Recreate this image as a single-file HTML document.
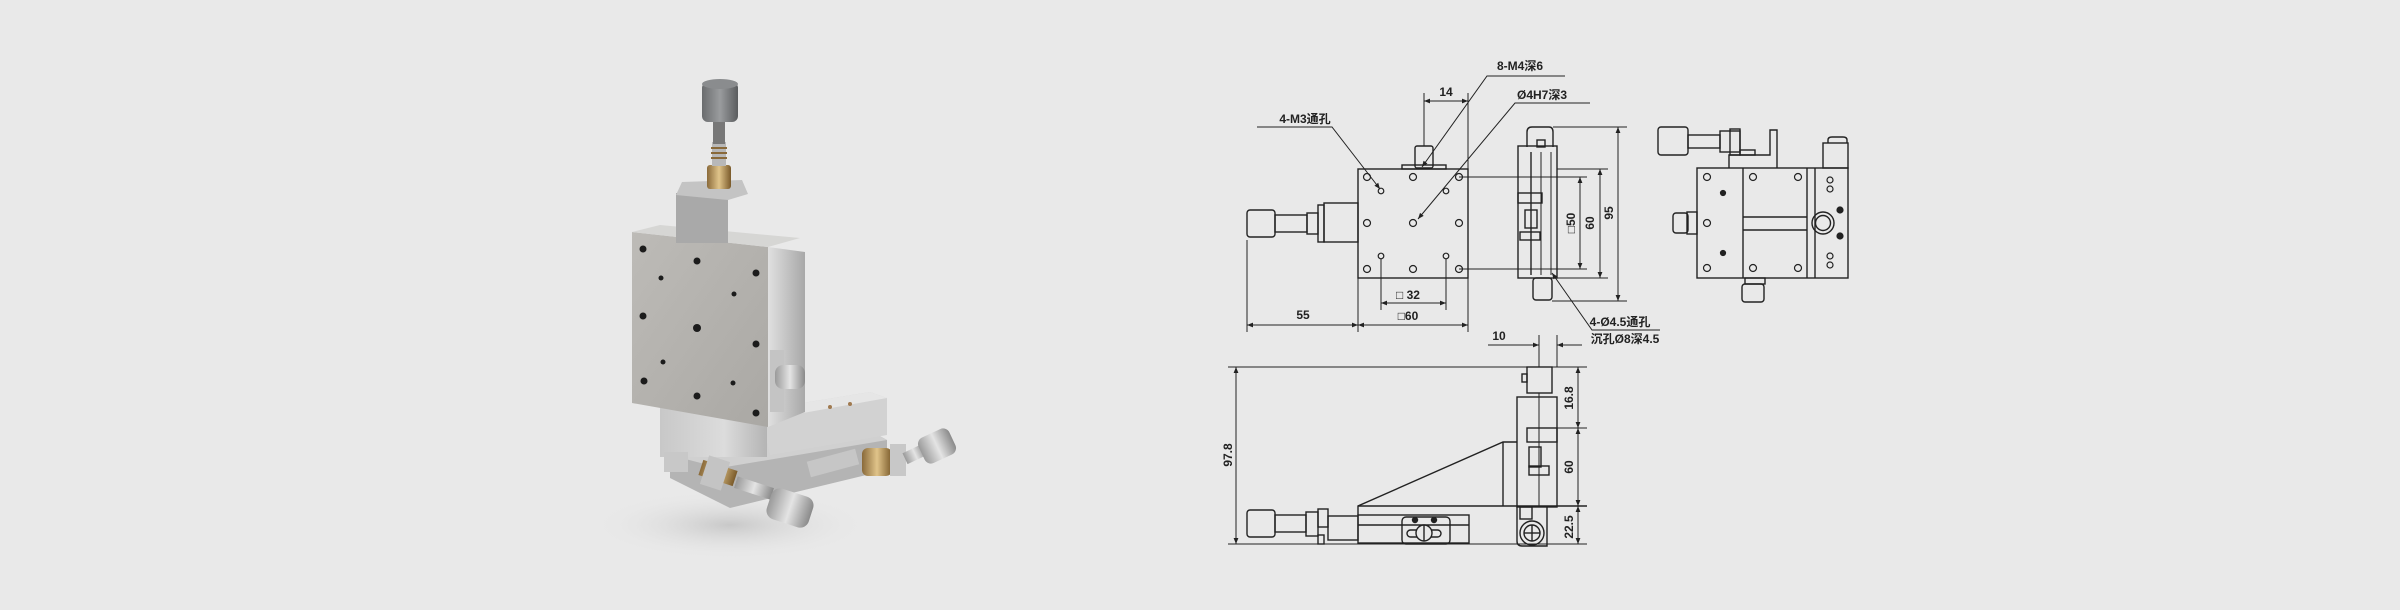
<!DOCTYPE html>
<html><head><meta charset="utf-8"><style>
html,body{margin:0;padding:0;background:#e9e9e9;}
svg{display:block}
text{font-family:"Liberation Sans Narrow","Liberation Sans","Noto Sans CJK SC",sans-serif;font-weight:bold;font-size:12px;fill:#222}
</style></head><body>
<svg width="2400" height="610" viewBox="0 0 2400 610" xmlns="http://www.w3.org/2000/svg">
<defs>
<marker id="a" viewBox="0 0 10 10" refX="10" refY="5" markerWidth="9" markerHeight="6" orient="auto-start-reverse" markerUnits="userSpaceOnUse"><path d="M0,1 L10,5 L0,9z" fill="#222"/></marker>
<linearGradient id="pl" x1="0" y1="0" x2="1" y2="1"><stop offset="0" stop-color="#bdbbb7"/><stop offset="1" stop-color="#aaa8a4"/></linearGradient>
<linearGradient id="sd" x1="0" y1="0" x2="1" y2="0"><stop offset="0" stop-color="#e0e0e0"/><stop offset="1" stop-color="#a8a8a8"/></linearGradient>
<linearGradient id="col" x1="0" y1="0" x2="1" y2="0"><stop offset="0" stop-color="#c8c8c8"/><stop offset=".6" stop-color="#dcdcdc"/><stop offset="1" stop-color="#b4b4b4"/></linearGradient>
<linearGradient id="kn" x1="0" y1="0" x2="1" y2="0"><stop offset="0" stop-color="#6a6c6e"/><stop offset=".5" stop-color="#9a9c9e"/><stop offset="1" stop-color="#5a5c5e"/></linearGradient>
<linearGradient id="kn2" x1="0" y1="0" x2="1" y2="0"><stop offset="0" stop-color="#9a9a9a"/><stop offset=".5" stop-color="#e4e4e4"/><stop offset="1" stop-color="#8a8a8a"/></linearGradient>
<linearGradient id="br" x1="0" y1="0" x2="1" y2="0"><stop offset="0" stop-color="#8a6a3a"/><stop offset=".5" stop-color="#e0c48a"/><stop offset="1" stop-color="#7a5a2a"/></linearGradient>
<radialGradient id="sh" cx=".5" cy=".5" r=".5"><stop offset="0" stop-color="#c8c8c8"/><stop offset="1" stop-color="#e9e9e9" stop-opacity="0"/></radialGradient>
</defs>

<!-- ============ 3D render ============ -->
<ellipse cx="730" cy="525" rx="140" ry="35" fill="url(#sh)"/>
<!-- base lower -->
<polygon points="670,455 860,425 887,440 887,470 730,508 670,478" fill="#b4b4b4"/>
<polygon points="670,455 860,425 887,440 720,468" fill="#d0d0d0"/>
<!-- L bracket top -->
<polygon points="760,410 870,392 887,398 887,435 770,455" fill="#d2d2d2"/>
<polygon points="760,410 870,392 887,398 775,418" fill="#e6e6e6"/>
<circle cx="830" cy="407" r="2" fill="#a07a50"/><circle cx="850" cy="404" r="2" fill="#a07a50"/>
<!-- column below plate -->
<rect x="660" y="405" width="107" height="52" fill="url(#col)"/>
<!-- front plate side -->
<polygon points="768,247 805,252 805,412 768,427" fill="url(#sd)"/>
<!-- main plate -->
<polygon points="632,232 768,247 768,427 632,403" fill="url(#pl)"/>
<polygon points="632,232 660,225 800,238 768,247" fill="#d6d6d4"/>
<g fill="#1c1c1c">
<circle cx="643" cy="249" r="3.5"/><circle cx="697" cy="261" r="3.5"/><circle cx="756" cy="273" r="3.5"/>
<circle cx="661" cy="278" r="2.5"/><circle cx="734" cy="294" r="2.5"/>
<circle cx="643" cy="316" r="3.5"/><circle cx="697" cy="328" r="4"/><circle cx="756" cy="344" r="3.5"/>
<circle cx="663" cy="362" r="2.5"/><circle cx="733" cy="383" r="2.5"/>
<circle cx="644" cy="381" r="3.5"/><circle cx="697" cy="396" r="3.5"/><circle cx="756" cy="413" r="3.5"/>
</g>
<!-- top block -->
<rect x="676" y="193" width="52" height="50" fill="#a9a9a9"/>
<polygon points="682,182 742,180 748,194 728,200 676,195" fill="#c4c4c4"/>
<rect x="707" y="165" width="24" height="24" rx="3" fill="url(#br)"/>
<rect x="712" y="142" width="14" height="24" fill="#b8b8b8"/>
<g stroke="#8a6a3a" stroke-width="2"><line x1="711" y1="148" x2="727" y2="148"/><line x1="711" y1="153" x2="727" y2="153"/><line x1="711" y1="158" x2="727" y2="158"/></g>
<rect x="713" y="118" width="12" height="26" fill="#777"/>
<rect x="702" y="82" width="36" height="40" rx="6" fill="url(#kn)"/>
<ellipse cx="720" cy="84" rx="18" ry="5" fill="#8a8c8e"/>
<!-- side knob on plate -->
<rect x="770" y="350" width="14" height="62" fill="#c4c4c4"/>
<rect x="775" y="365" width="30" height="24" rx="8" fill="url(#kn2)"/>
<!-- bottom left knob assembly -->
<rect x="664" y="452" width="24" height="20" fill="#c8c8c8"/>
<rect x="700" y="465" width="36" height="16" fill="url(#br)" transform="rotate(18 718 473)"/>
<rect x="704" y="458" width="22" height="30" fill="#c4c4c4" transform="rotate(18 715 473)"/>
<rect x="735" y="482" width="38" height="12" fill="url(#kn2)" transform="rotate(18 754 488)"/>
<rect x="768" y="492" width="44" height="32" rx="9" fill="url(#kn2)" transform="rotate(18 790 508)"/>
<!-- bottom right knob assembly -->
<rect x="808" y="455" width="50" height="16" fill="#c6c6c6" transform="rotate(-15 833 463)"/>
<rect x="862" y="448" width="30" height="28" rx="6" fill="url(#br)"/>
<rect x="890" y="444" width="16" height="32" fill="#c8c8c8"/>
<rect x="904" y="448" width="22" height="12" fill="url(#kn2)" transform="rotate(-25 915 454)"/>
<rect x="920" y="432" width="34" height="28" rx="7" fill="url(#kn2)" transform="rotate(-25 937 446)"/>

<!-- ============ DRAWING ============ -->
<g fill="none" stroke="#222" stroke-width="1.4">
<rect x="1358" y="169" width="110" height="109"/>
<g stroke-width="1.2">
<circle cx="1367" cy="177" r="3.5"/><circle cx="1413" cy="177" r="3.5"/><circle cx="1459" cy="177" r="3.5"/>
<circle cx="1367" cy="223" r="3.5"/><circle cx="1413" cy="223" r="3.5"/><circle cx="1459" cy="223" r="3.5"/>
<circle cx="1367" cy="269" r="3.5"/><circle cx="1413" cy="269" r="3.5"/><circle cx="1459" cy="269" r="3.5"/>
<circle cx="1381" cy="191" r="2.8"/><circle cx="1446" cy="191" r="2.8"/>
<circle cx="1381" cy="256" r="2.8"/><circle cx="1446" cy="256" r="2.8"/>
</g>
<rect x="1247" y="210" width="28" height="27" rx="3"/>
<rect x="1275" y="215" width="32" height="17"/>
<rect x="1307" y="213" width="11" height="21"/>
<rect x="1318" y="205" width="6" height="37"/>
<rect x="1324" y="203" width="34" height="39"/>
<rect x="1415" y="146" width="18" height="22" rx="2"/>
<rect x="1402" y="165" width="44" height="4"/>
<line x1="1424" y1="93" x2="1424" y2="146" stroke-width="1"/>
<line x1="1468" y1="93" x2="1468" y2="332" stroke-width="1"/>
<line x1="1424" y1="101" x2="1468" y2="101" stroke-width="1" marker-start="url(#a)" marker-end="url(#a)"/>
<line x1="1247" y1="240" x2="1247" y2="332" stroke-width="1"/>
<line x1="1358" y1="278" x2="1358" y2="332" stroke-width="1"/>
<line x1="1247" y1="325" x2="1358" y2="325" stroke-width="1" marker-start="url(#a)" marker-end="url(#a)"/>
<line x1="1358" y1="325" x2="1468" y2="325" stroke-width="1" marker-start="url(#a)" marker-end="url(#a)"/>
<line x1="1381" y1="259" x2="1381" y2="310" stroke-width="1"/>
<line x1="1446" y1="259" x2="1446" y2="310" stroke-width="1"/>
<line x1="1381" y1="303" x2="1446" y2="303" stroke-width="1" marker-start="url(#a)" marker-end="url(#a)"/>
<polyline points="1565,76 1487,76 1422,167" stroke-width="1" marker-end="url(#a)"/>
<polyline points="1590,103 1515,103 1418,219" stroke-width="1" marker-end="url(#a)"/>
<polyline points="1257,127 1332,127 1380,189" stroke-width="1" marker-end="url(#a)"/>
<polyline points="1660,330 1592,330 1552,273" stroke-width="1" marker-end="url(#a)"/>
<rect x="1518" y="146" width="39" height="132"/>
<path d="M1527,147 V132 Q1527,127 1532,127 H1549 Q1553,127 1553,132 V147"/>
<rect x="1537" y="140" width="8" height="7"/>
<line x1="1531" y1="152" x2="1531" y2="275"/>
<line x1="1541" y1="152" x2="1541" y2="275" stroke-width="1"/>
<line x1="1551" y1="152" x2="1551" y2="275" stroke-width="1"/>
<rect x="1518" y="193" width="24" height="10"/>
<rect x="1525" y="210" width="12" height="18"/>
<rect x="1520" y="232" width="20" height="8"/>
<rect x="1533" y="278" width="19" height="22" rx="3"/>
<line x1="1557" y1="169" x2="1608" y2="169" stroke-width="1"/>
<line x1="1557" y1="278" x2="1608" y2="278" stroke-width="1"/>
<line x1="1459" y1="177" x2="1587" y2="177" stroke-width="1"/>
<line x1="1459" y1="269" x2="1587" y2="269" stroke-width="1"/>
<line x1="1553" y1="127" x2="1627" y2="127" stroke-width="1"/>
<line x1="1552" y1="301" x2="1627" y2="301" stroke-width="1"/>
<line x1="1618" y1="127" x2="1618" y2="301" stroke-width="1" marker-start="url(#a)" marker-end="url(#a)"/>
<line x1="1600" y1="169" x2="1600" y2="278" stroke-width="1" marker-start="url(#a)" marker-end="url(#a)"/>
<line x1="1580" y1="177" x2="1580" y2="269" stroke-width="1" marker-start="url(#a)" marker-end="url(#a)"/>
<line x1="1539" y1="335" x2="1539" y2="367" stroke-width="1"/>
<line x1="1557" y1="335" x2="1557" y2="367" stroke-width="1"/>
<line x1="1488" y1="345" x2="1539" y2="345" stroke-width="1" marker-end="url(#a)"/>
<line x1="1582" y1="345" x2="1557" y2="345" stroke-width="1" marker-end="url(#a)"/>
<line x1="1228" y1="367" x2="1587" y2="367" stroke-width="1"/>
<line x1="1228" y1="544" x2="1587" y2="544" stroke-width="1"/>
<line x1="1236" y1="367" x2="1236" y2="544" stroke-width="1" marker-start="url(#a)" marker-end="url(#a)"/>
<rect x="1247" y="510" width="28" height="27" rx="3"/>
<rect x="1275" y="515" width="31" height="17"/>
<rect x="1306" y="512" width="12" height="24"/>
<rect x="1318" y="509" width="10" height="18"/>
<rect x="1328" y="516" width="30" height="24"/>
<rect x="1318" y="535" width="6" height="9"/>
<rect x="1358" y="515" width="111" height="28"/>
<line x1="1358" y1="525" x2="1469" y2="525"/>
<rect x="1402" y="517" width="48" height="27" rx="4"/>
<rect x="1407" y="530" width="34" height="7" rx="3.5"/>
<circle cx="1424" cy="533" r="8" fill="#e9e9e9"/>
<line x1="1424" y1="525" x2="1424" y2="541"/>
<circle cx="1415" cy="520" r="2.5" fill="#222"/><circle cx="1434" cy="520" r="2.5" fill="#222"/>
<polyline points="1358,515 1358,506 1503,442 1517,442"/>
<line x1="1503" y1="442" x2="1503" y2="506"/>
<line x1="1358" y1="506" x2="1587" y2="506"/>
<rect x="1517" y="397" width="40" height="110"/>
<rect x="1527" y="367" width="25" height="26"/>
<rect x="1522" y="374" width="5" height="8"/>
<line x1="1539" y1="393" x2="1539" y2="506" stroke-width="1"/>
<rect x="1527" y="428" width="30" height="14"/>
<rect x="1529" y="447" width="12" height="20"/>
<rect x="1529" y="466" width="20" height="9"/>
<path d="M1517,507 V541 Q1517,546 1522,546 H1547 V507"/>
<rect x="1520" y="507" width="12" height="12"/>
<circle cx="1532" cy="533" r="12"/><circle cx="1532" cy="533" r="8"/>
<line x1="1524" y1="533" x2="1540" y2="533"/><line x1="1532" y1="525" x2="1532" y2="541"/>
<line x1="1550" y1="428" x2="1587" y2="428" stroke-width="1"/>
<line x1="1578" y1="367" x2="1578" y2="428" stroke-width="1" marker-start="url(#a)" marker-end="url(#a)"/>
<line x1="1578" y1="428" x2="1578" y2="506" stroke-width="1" marker-start="url(#a)" marker-end="url(#a)"/>
<line x1="1578" y1="506" x2="1578" y2="544" stroke-width="1" marker-start="url(#a)" marker-end="url(#a)"/>
<rect x="1697" y="168" width="151" height="110"/>
<line x1="1743" y1="168" x2="1743" y2="278"/>
<line x1="1807" y1="168" x2="1807" y2="278"/>
<line x1="1815" y1="168" x2="1815" y2="278"/>
<line x1="1743" y1="217" x2="1807" y2="217"/>
<line x1="1743" y1="230" x2="1807" y2="230"/>
<g stroke-width="1.2">
<circle cx="1707" cy="177" r="3.5"/><circle cx="1753" cy="177" r="3.5"/><circle cx="1798" cy="177" r="3.5"/>
<circle cx="1707" cy="223" r="3.5"/>
<circle cx="1707" cy="268" r="3.5"/><circle cx="1753" cy="268" r="3.5"/><circle cx="1798" cy="268" r="3.5"/>
<circle cx="1723" cy="193" r="2.5" fill="#222"/><circle cx="1723" cy="253" r="2.5" fill="#222"/>
<circle cx="1830" cy="180" r="3"/><circle cx="1830" cy="189" r="3"/>
<circle cx="1830" cy="256" r="3"/><circle cx="1830" cy="265" r="3"/>
<circle cx="1840" cy="210" r="3" fill="#222"/><circle cx="1840" cy="236" r="3" fill="#222"/>
</g>
<circle cx="1823" cy="223" r="11"/><circle cx="1823" cy="223" r="7.5"/>
<rect x="1658" y="127" width="30" height="28" rx="3"/>
<rect x="1688" y="135" width="32" height="13"/>
<rect x="1720" y="131" width="20" height="21"/>
<rect x="1730" y="129" width="10" height="26"/>
<polyline points="1729,168 1729,155 1770,155 1770,130 1777,130 1777,168"/>
<rect x="1740" y="150" width="15" height="5"/>
<rect x="1823" y="143" width="25" height="25"/>
<path d="M1828,143 V140 Q1828,137 1832,137 H1843 Q1847,137 1847,140 V143"/>
<rect x="1687" y="212" width="10" height="22"/>
<rect x="1673" y="213" width="15" height="20" rx="3"/>
<rect x="1745" y="278" width="20" height="6"/>
<rect x="1742" y="284" width="22" height="18" rx="3"/>
</g>
<text x="1446" y="96" text-anchor="middle">14</text>
<text x="1520" y="70" text-anchor="middle">8-M4深6</text>
<text x="1542" y="99" text-anchor="middle">Ø4H7深3</text>
<text x="1305" y="123" text-anchor="middle">4-M3通孔</text>
<text x="1303" y="319" text-anchor="middle">55</text>
<text x="1408" y="320" text-anchor="middle">□60</text>
<text x="1408" y="299" text-anchor="middle">□ 32</text>
<text x="1620" y="326" text-anchor="middle">4-Ø4.5通孔</text>
<text x="1625" y="343" text-anchor="middle">沉孔Ø8深4.5</text>
<text x="1499" y="340" text-anchor="middle">10</text>
<text transform="translate(1613,213) rotate(-90)" text-anchor="middle">95</text>
<text transform="translate(1594,223) rotate(-90)" text-anchor="middle">60</text>
<text transform="translate(1575,223) rotate(-90)" text-anchor="middle">□50</text>
<text transform="translate(1232,455) rotate(-90)" text-anchor="middle">97.8</text>
<text transform="translate(1573,398) rotate(-90)" text-anchor="middle">16.8</text>
<text transform="translate(1573,467) rotate(-90)" text-anchor="middle">60</text>
<text transform="translate(1573,527) rotate(-90)" text-anchor="middle">22.5</text>
</svg>
</body></html>
